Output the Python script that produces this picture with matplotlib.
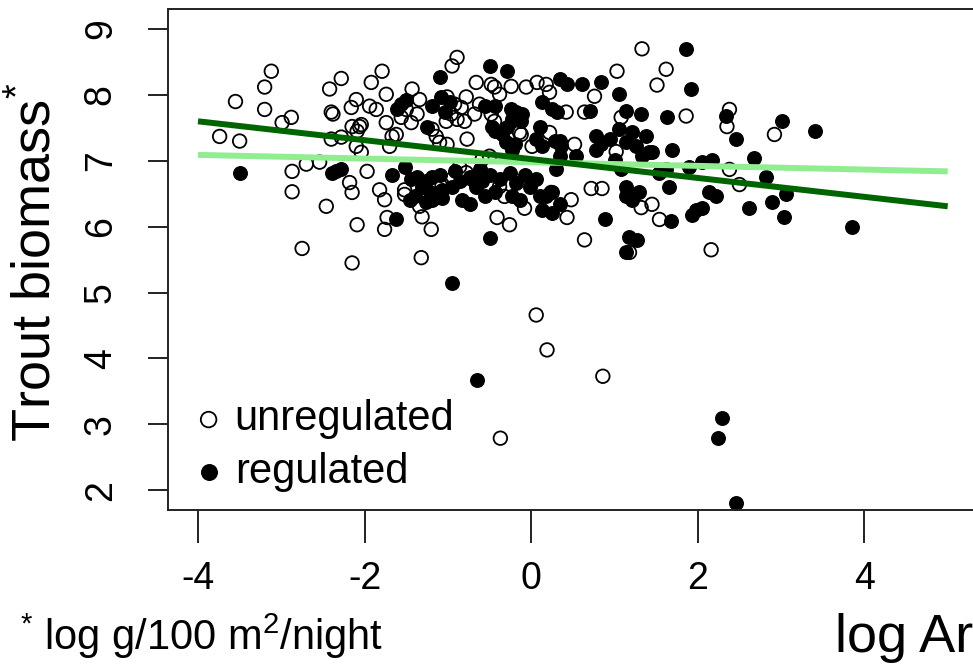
import matplotlib
matplotlib.use("Agg")
import matplotlib.pyplot as plt

plt.rcParams['font.family'] = ['Liberation Sans', 'DejaVu Sans']
plt.rcParams['mathtext.fontset'] = 'custom'
plt.rcParams['mathtext.rm'] = 'Liberation Sans'
plt.rcParams['mathtext.it'] = 'Liberation Sans'

# unregulated rivers (open circles)
unreg_x = [-3.74, -3.50, -3.55, -3.20, -3.20, -3.12, -2.99, -2.88, -2.87, -2.87,
           -2.46, -2.75, -2.40, -2.38, -2.42, -2.28, -1.92, -1.79, -1.74, -2.10,
           -2.16, -1.94, -1.86, -2.06, -2.15, -1.74, -1.67, -1.70, -2.40, -2.28,
           -2.10, -2.04, -2.54, -2.70, -1.97, -2.18, -2.15, -2.09, -2.15, -1.82,
           -1.76, -1.73, -1.76, -1.52, -1.52, -1.34, -1.31, -1.20, -1.32, -1.43,
           -1.34, -1.50, -1.56, -1.44, -1.37, -1.62, -1.19, -1.14, -0.89, -0.95,
           -0.66, -0.48, -0.44, -0.38, -0.24, -0.06, 0.07, 0.18, 0.22, -1.01,
           -0.92, -0.84, -0.78, -0.96, -1.02, -0.89, -0.80, -0.68, -0.62, -0.48,
           -0.44, -1.10, -1.01, -0.77, -0.86, -0.78, -0.71, -1.07, -0.95, -0.59,
           -0.50, -0.41, -0.26, -0.08, -0.32, -0.38, -0.14, 0.01, -0.12, 0.22,
           0.42, 0.64, 0.76, 0.52, 0.24, 0.48, 0.43, 0.64, 0.72, 0.85,
           1.03, 1.33, 1.62, 1.51, 1.08, 1.86, 2.38, 2.35, 2.92, 1.02,
           2.38, 2.50, 1.32, 1.45, 1.54, 1.18, 2.16, 0.06, 0.19, 0.86,
           -0.37, -2.04, -2.09]
unreg_y = [7.37, 7.30, 7.90, 7.78, 8.12, 8.36, 7.58, 7.66, 6.84, 6.53,
           6.31, 5.67, 7.74, 7.71, 8.09, 8.25, 8.19, 8.36, 8.01, 7.93,
           7.81, 7.83, 7.78, 7.52, 7.52, 7.58, 7.37, 7.22, 7.33, 7.36,
           7.22, 7.13, 6.98, 6.95, 6.84, 6.67, 6.52, 6.03, 5.45, 6.56,
           6.41, 6.14, 5.96, 6.56, 6.49, 6.31, 6.15, 5.96, 5.53, 8.09,
           7.93, 7.78, 7.66, 7.58, 7.71, 7.40, 7.48, 7.37, 8.57, 8.44,
           8.19, 8.16, 8.12, 8.01, 8.13, 8.12, 8.19, 8.16, 8.04, 7.97,
           7.86, 7.81, 7.97, 7.71, 7.60, 7.63, 7.60, 7.71, 7.86, 7.71,
           7.60, 7.28, 7.25, 7.33, 6.91, 6.82, 6.72, 6.64, 6.72, 7.02,
           7.07, 6.14, 6.03, 6.28, 6.46, 6.61, 7.43, 7.22, 7.40, 7.43,
           7.74, 7.74, 7.98, 7.25, 6.52, 6.41, 6.14, 5.80, 6.58, 6.58,
           8.36, 8.70, 8.39, 8.15, 7.66, 7.68, 7.78, 7.52, 7.40, 7.14,
           6.87, 6.64, 6.29, 6.34, 6.11, 5.61, 5.65, 4.66, 4.13, 3.73,
           2.79, 7.55, 7.45]

# regulated rivers (filled circles)
reg_x = [-3.50, -2.39, -2.28, -1.67, -1.37, -1.26, -1.19, -1.31, -1.07, -0.95,
         -0.86, -1.26, -1.19, -1.07, -0.83, -0.66, -0.59, -0.62, -0.26, -0.18,
         -0.23, -0.02, 0.06, 0.18, 0.25, 0.13, 0.25, -1.62, -0.50, -1.10,
         -0.50, -0.29, -1.56, -1.50, -1.61, -1.19, -1.08, -0.98, -1.04, -1.25,
         -0.18, -0.23, -0.11, -0.24, -0.12, -0.29, 0.13, 0.25, 0.31, -0.47,
         -0.35, -0.30, -0.23, 0.10, 0.06, 0.13, 0.28, 0.36, -0.56, -0.44,
         -0.44, -0.20, 0.34, 0.43, 0.61, 0.84, 1.06, 0.70, 1.14, 1.32,
         1.63, 1.86, 1.92, 2.34, 3.01, 3.41, 2.46, 1.69, 0.78, 0.78,
         0.94, 1.06, 1.21, 1.38, 1.14, 1.26, 0.34, 0.54, 1.42, 2.17,
         2.05, 2.68, 2.82, 2.14, 2.22, 3.06, 2.89, 1.14, 1.30, 1.14,
         1.21, 1.66, 2.62, 1.98, 2.05, 1.93, 0.88, 1.68, 3.04, 3.85,
         1.18, 1.27, 1.14, 0.30, 1.54, 1.62, 1.90, 0.34, -0.95, -0.65,
         2.29, 2.24, 2.46, 0.84, 1.33, 1.45, -1.52, -1.44, -1.10, -0.92,
         -0.74, -0.50, -0.38, -0.08, -0.44, -0.56, -1.22, -1.40, -0.74, 0.10,
         -0.14, -1.46, 1.00, 1.08, 0.34, -2.34]
reg_y = [6.82, 6.82, 6.87, 6.79, 6.76, 6.69, 6.76, 6.61, 6.56, 6.61,
         6.69, 6.37, 6.41, 6.44, 6.41, 6.61, 6.69, 6.87, 6.82, 6.67,
         6.46, 6.61, 6.72, 6.46, 6.52, 6.26, 6.21, 6.11, 5.83, 8.27,
         8.44, 8.36, 7.86, 7.93, 7.78, 7.83, 7.97, 7.89, 7.74, 7.51,
         7.74, 7.63, 7.71, 7.78, 7.60, 7.52, 7.89, 7.78, 7.74, 7.51,
         7.40, 7.28, 7.17, 7.52, 7.33, 7.22, 7.30, 7.22, 7.83, 7.83,
         7.45, 7.25, 8.24, 8.16, 8.16, 8.19, 8.01, 7.75, 7.75, 7.71,
         7.66, 8.70, 8.09, 7.68, 7.60, 7.46, 7.33, 7.17, 7.37, 7.17,
         7.33, 7.48, 7.43, 7.37, 7.28, 7.22, 7.07, 7.07, 7.13, 7.02,
         6.98, 7.05, 6.75, 6.53, 6.46, 6.49, 6.38, 6.61, 6.52, 6.46,
         6.41, 6.61, 6.28, 6.26, 6.29, 6.18, 6.11, 6.09, 6.14, 6.00,
         5.85, 5.80, 5.61, 6.87, 6.82, 6.87, 6.90, 6.34, 5.15, 3.67,
         3.09, 2.79, 1.80, 7.25, 7.07, 7.13, 6.90, 6.72, 6.79, 6.84,
         6.75, 6.79, 6.72, 6.79, 6.53, 6.46, 6.53, 6.46, 6.34, 6.46,
         6.41, 6.41, 7.02, 6.87, 7.30, 6.84]

# fitted lines
line_x = [-4, 5]
unreg_fit = [7.09, 6.84]
reg_fit = [7.60, 6.31]

fig = plt.figure(figsize=(9.73, 6.64), dpi=100)
ax = fig.add_axes([168 / 973, 154 / 664, 809.7 / 973, 500.7 / 664])

ax.scatter(unreg_x, unreg_y, s=95, facecolors='none', edgecolors='black',
           linewidths=1.3, label='unregulated', zorder=2)
ax.scatter(reg_x, reg_y, s=95, facecolors='black', edgecolors='black',
           linewidths=1.0, label='regulated', zorder=2)
ax.plot(line_x, unreg_fit, color='#90EE90', lw=4.3, solid_capstyle='butt', zorder=3)
ax.plot(line_x, reg_fit, color='#006400', lw=4.3, solid_capstyle='butt', zorder=3)

ax.set_xlim(-4.36, 5.36)
ax.set_ylim(1.70, 9.30)
ax.set_xticks([-4, -2, 0, 2, 4])
ax.set_xticklabels(['-4', '-2', '0', '2', '4'])
ax.set_yticks(range(2, 10))

for sp in ax.spines.values():
    sp.set_linewidth(1.4)
    sp.set_color('#222222')

ax.tick_params(axis='x', length=24, width=1.4, pad=13, labelsize=27, color='#222222')
ax.tick_params(axis='y', length=14.4, width=1.4, pad=21, labelsize=27,
               color='#222222', labelrotation=90)
for lbl in ax.get_yticklabels():
    lbl.set_va('center')

leg = ax.legend(loc='lower left', bbox_to_anchor=(0.036, 0.036), frameon=False,
                fontsize=30, markerscale=1.15, scatterpoints=1, handlelength=0.55,
                handletextpad=0.35, labelspacing=0.30, borderpad=0, borderaxespad=0)

fig.text(36 / 973, (664 - 262) / 664, r'Trout biomass$^{*}$',
         rotation=90, ha='center', va='center', fontsize=39)

fig.text(20 / 973, 14 / 664, r'$^{*}$ log g/100 m$^{2}$/night',
         ha='left', va='baseline', fontsize=30)
fig.text(835 / 973, 12 / 664, 'log Ar', ha='left', va='baseline', fontsize=39)

fig.savefig('out.png', dpi=100)
